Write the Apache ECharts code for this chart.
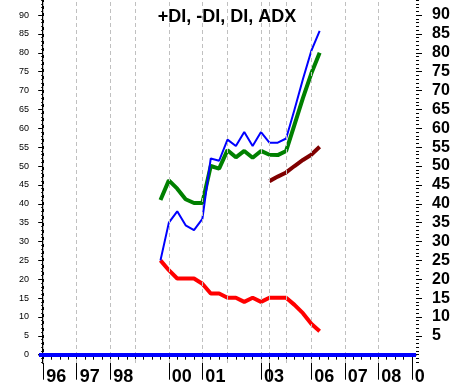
<!DOCTYPE html>
<html>
<head>
<meta charset="utf-8">
<script src="https://cdn.jsdelivr.net/npm/echarts@6/dist/echarts.min.js"></script>
<style>
html,body{margin:0;padding:0;background:#fff;}
#chart{width:454px;height:387px;}
</style>
</head>
<body>
<div id="chart"></div>
<script>
// Quarter index (0 = start of '96) for every data point
const quarters = [14,15,16,17,18,19,20,21,22,23,24,25,26,27,28,29,30,31,32,33];
const plusDI  = [25,35,38,34.3,33,36,52,51.4,57,55.3,59,55.3,59,56.2,56.2,57.3,65,73,80.5,85.8];
const minusDI = [25,22.4,20.2,20.2,20.2,18.8,16.2,16.2,15.1,15.1,14,15.1,14,15.1,15.1,15.1,13.2,11,8.2,6.2];
const diLine  = [41,46.2,44,41.2,40.2,40.2,50,49.3,54.2,52.3,54,52.2,54,53,52.9,54,61,68,74.5,80];
const adxQuarters = [27,28,29,30,31,32,33];
const adxLine = [46,47.2,48.3,50,51.6,53,55.1];

// Axis annotation
const yearTickQ  = [0,4,8,15,19,26,27,32,36,40,44];
const yearLabelQ = [0,4,8,15,19,26,32,36,40,44];
const yearLabels = ['96','97','98','00','01','03','06','07','08','0'];
const gridQ = [0,4,8,11,15,19,22,26,27,29,32,36,40];
const leftLabels = [0,5,10,15,20,25,30,35,40,45,50,55,60,65,70,75,80,85,90];
const rightLabels = [5,10,15,20,25,30,35,40,45,50,55,60,65,70,75,80,85,90];

const qTicks = []; for (let q = 0; q <= 44; q++) qTicks.push(q);
const unitTicks = []; for (let v = -2; v <= 94; v++) unitTicks.push(v);

const zip = (xs, ys) => xs.map((x, i) => [x, ys[i]]);
const FONT = '"Liberation Sans", Arial, sans-serif';
const Y_MIN = -2.2, Y_MAX = 94, X_MIN = -0.5, X_MAX = 44.5;

const chart = echarts.init(document.getElementById('chart'), null, {renderer: 'canvas'});
chart.setOption({
  animation: false,
  backgroundColor: '#ffffff',
  title: {
    text: '+DI, -DI, DI, ADX',
    left: 'center',
    top: 3,
    textStyle: {fontFamily: FONT, fontWeight: 'bold', fontSize: 18, color: '#000'}
  },
  grid: {left: 39, right: 38, top: 0, bottom: 24, containLabel: false},
  xAxis: [
    {
      type: 'value', min: X_MIN, max: X_MAX, position: 'bottom',
      axisLine: {show: true, lineStyle: {color: '#000', width: 1.5}},
      axisTick: {show: true, customValues: qTicks, length: 5, lineStyle: {color: '#000', width: 1}},
      axisLabel: {show: false},
      splitLine: {show: false}
    },
    {
      type: 'value', min: X_MIN, max: X_MAX, position: 'bottom',
      axisLine: {show: false},
      axisTick: {show: true, customValues: yearTickQ, length: 25, lineStyle: {color: '#000', width: 1}},
      axisLabel: {
        show: true, customValues: yearLabelQ, align: 'left', margin: 5,
        padding: [0, 0, 0, 3],
        fontFamily: FONT, fontWeight: 'bold', fontSize: 18, color: '#000',
        formatter: v => yearLabels[yearLabelQ.indexOf(Math.round(v))] || ''
      },
      splitLine: {show: false}
    }
  ],
  yAxis: [
    {
      type: 'value', min: Y_MIN, max: Y_MAX, position: 'left',
      axisLine: {show: true, lineStyle: {color: '#000', width: 2}},
      axisTick: {show: true, customValues: leftLabels, length: 5, lineStyle: {color: '#000'}},
      axisLabel: {show: true, customValues: leftLabels, margin: 10, fontFamily: FONT, fontSize: 9, color: '#000'},
      splitLine: {show: false}
    },
    {
      type: 'value', min: Y_MIN, max: Y_MAX, position: 'left',
      axisLine: {show: false},
      axisTick: {show: true, customValues: unitTicks, length: 2, lineStyle: {color: '#000'}},
      axisLabel: {show: false},
      splitLine: {show: false}
    },
    {
      type: 'value', min: Y_MIN, max: Y_MAX, position: 'right',
      axisLine: {show: false},
      axisTick: {show: true, customValues: rightLabels, length: 6, lineStyle: {color: '#000'}},
      axisLabel: {show: true, customValues: rightLabels, margin: 16, fontFamily: FONT, fontWeight: 'bold', fontSize: 16, color: '#000'},
      splitLine: {show: false}
    },
    {
      type: 'value', min: Y_MIN, max: Y_MAX, position: 'right',
      axisLine: {show: false},
      axisTick: {show: true, customValues: unitTicks, length: 3, lineStyle: {color: '#000'}},
      axisLabel: {show: false},
      splitLine: {show: false}
    }
  ],
  series: [
    {
      name: 'guides', type: 'line', data: [], xAxisIndex: 0, yAxisIndex: 0, silent: true,
      markLine: {
        silent: true, symbol: 'none', label: {show: false}, animation: false,
        data: gridQ.map(q => ({xAxis: q, lineStyle: {color: '#c0c0c0', width: 1, type: [4, 3]}}))
          .concat([{yAxis: 0, lineStyle: {color: '#0000ff', width: 4, type: 'solid'}}])
      }
    },
    {
      name: '-DI', type: 'line', data: zip(quarters, minusDI), xAxisIndex: 0, yAxisIndex: 0,
      showSymbol: false, symbol: 'none', lineStyle: {color: '#ff0000', width: 4}
    },
    {
      name: 'DI', type: 'line', data: zip(quarters, diLine), xAxisIndex: 0, yAxisIndex: 0,
      showSymbol: false, symbol: 'none', lineStyle: {color: '#008000', width: 4}
    },
    {
      name: 'ADX', type: 'line', data: zip(adxQuarters, adxLine), xAxisIndex: 0, yAxisIndex: 0,
      showSymbol: false, symbol: 'none', lineStyle: {color: '#800000', width: 4}
    },
    {
      name: '+DI', type: 'line', data: zip(quarters, plusDI), xAxisIndex: 0, yAxisIndex: 0,
      showSymbol: false, symbol: 'none', lineStyle: {color: '#0000ff', width: 2}
    }
  ]
});
</script>
</body>
</html>
